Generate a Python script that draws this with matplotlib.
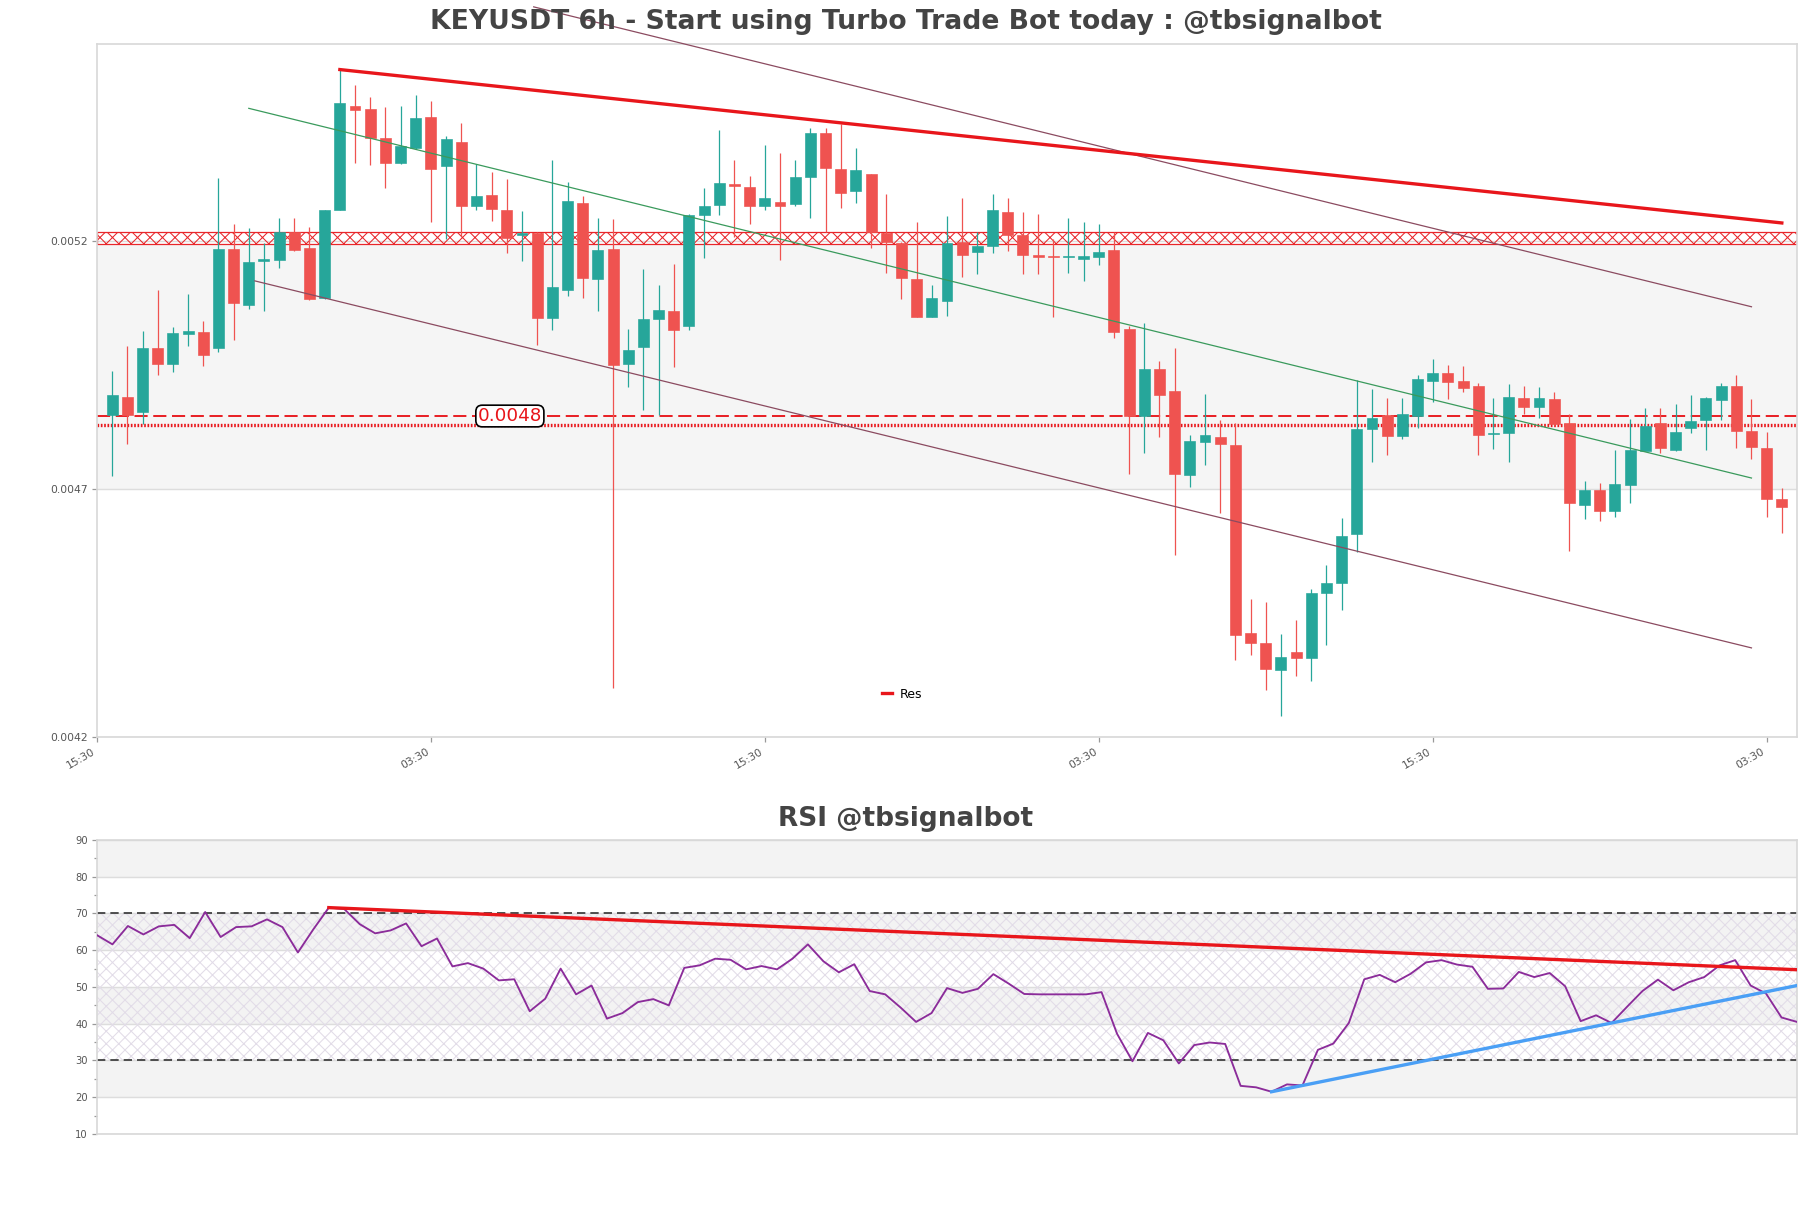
import numpy as np
import matplotlib
matplotlib.use("Agg")
import matplotlib.pyplot as plt

plt.rcParams['font.family'] = ['DejaVu Sans']
plt.rcParams['hatch.linewidth'] = 0.5

# ---------------- data (prices in 1e-3 units) ----------------
open_m = [4.8493, 4.8852, 4.8538, 4.9840, 4.9508, 5.0127, 5.0154, 4.9840, 5.1834, 5.0693,
          5.1592, 5.1601, 5.2176, 5.1852, 5.0846, 5.2625, 5.4718, 5.4646, 5.4062, 5.3568,
          5.3864, 5.4493, 5.3496, 5.3990, 5.2706, 5.2921, 5.2625, 5.2104, 5.2158, 5.0433,
          5.0999, 5.2759, 5.1232, 5.1834, 4.9508, 4.9849, 5.0424, 5.0586, 5.0289, 5.2517,
          5.2724, 5.3137, 5.3083, 5.2706, 5.2786, 5.2741, 5.3271, 5.4170, 5.3442, 5.2993,
          5.3343, 5.2158, 5.1951, 5.1232, 5.0469, 5.0792, 5.1969, 5.1762, 5.1888, 5.2580,
          5.2113, 5.1708, 5.1699, 5.1663, 5.1627, 5.1663, 5.1816, 5.0226, 4.8466, 4.9418,
          4.8960, 4.7280, 4.7945, 4.8053, 4.7891, 4.4091, 4.3885, 4.3346, 4.3714, 4.3597,
          4.4900, 4.5097, 4.6085, 4.8196, 4.8493, 4.8062, 4.8466, 4.9166, 4.9337, 4.9166,
          4.9076, 4.8097, 4.8133, 4.8834, 4.8645, 4.8807, 4.8331, 4.6669, 4.6966, 4.6561,
          4.7073, 4.7756, 4.8331, 4.7774, 4.8223, 4.8385, 4.8780, 4.9076, 4.8160, 4.7828,
          4.6804]
close_m = [4.8897, 4.8493, 4.9840, 4.9508, 5.0136, 5.0172, 4.9705, 5.1834, 5.0738, 5.1574,
           5.1619, 5.2176, 5.1816, 5.0828, 5.2625, 5.4772, 5.4637, 5.4062, 5.3568, 5.3909,
           5.4466, 5.3451, 5.4044, 5.2697, 5.2903, 5.2643, 5.2059, 5.2158, 5.0433, 5.1071,
           5.2795, 5.1250, 5.1816, 4.9499, 4.9804, 5.0424, 5.0604, 5.0190, 5.2517, 5.2706,
           5.3164, 5.3101, 5.2688, 5.2858, 5.2706, 5.3280, 5.4170, 5.3469, 5.2966, 5.3415,
           5.2176, 5.1978, 5.1241, 5.0469, 5.0846, 5.1951, 5.1717, 5.1897, 5.2616, 5.2113,
           5.1717, 5.1672, 5.1663, 5.1681, 5.1681, 5.1771, 5.0154, 4.8466, 4.9418, 4.8897,
           4.7307, 4.7954, 4.8088, 4.7900, 4.4046, 4.3885, 4.3373, 4.3615, 4.3597, 4.4900,
           4.5106, 4.6040, 4.8214, 4.8421, 4.8062, 4.8510, 4.9211, 4.9337, 4.9148, 4.9031,
           4.8079, 4.8133, 4.8852, 4.8654, 4.8825, 4.8313, 4.6714, 4.6966, 4.6561, 4.7100,
           4.7774, 4.8268, 4.7819, 4.8151, 4.8358, 4.8834, 4.9076, 4.8160, 4.7846, 4.6804,
           4.6642]
high_m = [4.9373, 4.9876, 5.0172, 5.1008, 5.0262, 5.0918, 5.0379, 5.3253, 5.2328, 5.2247,
          5.1951, 5.2445, 5.2445, 5.2265, 5.2625, 5.5445, 5.5140, 5.4888, 5.4691, 5.4709,
          5.4924, 5.4807, 5.4107, 5.4367, 5.3541, 5.3388, 5.3235, 5.2598, 5.2176, 5.3631,
          5.3182, 5.2894, 5.2445, 5.2427, 5.0226, 5.1430, 5.1098, 5.1529, 5.2535, 5.3056,
          5.4224, 5.3631, 5.3298, 5.3927, 5.3765, 5.3631, 5.4277, 5.4277, 5.4349, 5.3855,
          5.3343, 5.2939, 5.1978, 5.2373, 5.1098, 5.2499, 5.2849, 5.2176, 5.2948, 5.2849,
          5.2580, 5.2535, 5.2023, 5.2445, 5.2373, 5.2328, 5.2176, 5.0289, 5.0334, 4.9571,
          4.9840, 4.8088, 4.8915, 4.8376, 4.8331, 4.4783, 4.4720, 4.4073, 4.4361, 4.4989,
          4.5466, 4.6409, 4.9184, 4.9013, 4.8825, 4.8825, 4.9301, 4.9615, 4.9499, 4.9481,
          4.9121, 4.8834, 4.9103, 4.9076, 4.9049, 4.8941, 4.8510, 4.7163, 4.7118, 4.7774,
          4.8403, 4.8627, 4.8627, 4.8717, 4.8897, 4.8852, 4.9121, 4.9283, 4.8807, 4.8151,
          4.7011]
low_m = [4.7253, 4.7900, 4.8313, 4.9283, 4.9346, 4.9885, 4.9481, 4.9750, 5.0002, 5.0631,
         5.0577, 5.1457, 5.1798, 5.0810, 5.0828, 5.2625, 5.3568, 5.3523, 5.3056, 5.3550,
         5.3837, 5.2382, 5.2023, 5.2086, 5.2625, 5.2400, 5.1753, 5.1583, 4.9903, 5.0190,
         5.0891, 5.0846, 5.0586, 4.2986, 4.9059, 4.8582, 4.8493, 4.9463, 5.0199, 5.1654,
         5.2508, 5.2068, 5.2337, 5.2625, 5.1601, 5.2697, 5.2445, 5.2176, 5.2661, 5.2759,
         5.1852, 5.1340, 5.0828, 5.0469, 5.0451, 5.0487, 5.1259, 5.1322, 5.1744, 5.1798,
         5.1322, 5.1322, 5.0451, 5.1349, 5.1187, 5.1502, 5.0038, 4.7307, 4.7729, 4.8044,
         4.5663, 4.7029, 4.7487, 4.6516, 4.3552, 4.3642, 4.2941, 4.2429, 4.3220, 4.3130,
         4.3849, 4.4558, 4.5735, 4.7532, 4.7684, 4.7999, 4.8223, 4.8744, 4.8807, 4.8941,
         4.7684, 4.7801, 4.7532, 4.8510, 4.8421, 4.8295, 4.5753, 4.6382, 4.6355, 4.6427,
         4.6714, 4.7756, 4.7729, 4.7756, 4.8133, 4.7774, 4.8385, 4.7819, 4.7594, 4.6427,
         4.6112]

rsi_values = [64.1, 61.6, 66.6, 64.3, 66.5, 66.9, 63.3, 70.4, 63.6, 66.3,
              66.5, 68.4, 66.3, 59.4, 65.7, 71.6, 71.2, 67.1, 64.6, 65.4,
              67.3, 61.1, 63.2, 55.6, 56.5, 55.0, 51.8, 52.1, 43.4, 46.8,
              55.0, 48.0, 50.4, 41.4, 42.9, 45.9, 46.7, 45.0, 55.2, 55.9,
              57.7, 57.4, 54.8, 55.7, 54.8, 57.7, 61.6, 57.0, 54.0, 56.2,
              48.9, 48.0, 44.4, 40.5, 42.9, 49.7, 48.4, 49.5, 53.5, 50.9,
              48.1, 48.0, 48.0, 48.0, 48.0, 48.6, 37.3, 29.8, 37.5, 35.5,
              29.2, 34.2, 34.9, 34.5, 23.1, 22.7, 21.5, 23.5, 23.2, 32.9,
              34.6, 40.2, 52.1, 53.3, 51.3, 53.6, 56.7, 57.3, 56.1, 55.5,
              49.5, 49.6, 54.1, 52.7, 53.8, 50.2, 40.7, 42.3, 40.2, 44.6,
              48.9, 52.0, 49.1, 51.3, 52.7, 55.9, 57.3, 50.4, 48.2, 41.7,
              40.5]

x_tick_labels = ['15:30', '03:30', '15:30', '03:30', '15:30', '03:30']
x_tick_index = [0, 22, 44, 66, 88, 110]
y_ticks = [0.0042, 0.0047, 0.0052]

# trend lines (candle index, price in 1e-3)
res_line_x = [16, 111]
res_line_y = [5.5445, 5.2355]
chan_mid_x = [10, 109]
chan_mid_y = [5.4664, 4.7217]
chan_up_x = [28.77, 109]
chan_up_y = [5.6708, 5.0667]
chan_lo_x = [10.4, 109]
chan_lo_y = [5.1188, 4.3795]

level_dash = 4.8466
level_dot = 4.8277
zone_hatch = (5.1933, 5.2176)
zone_gray = (4.7000, 5.1933)
level_label = '0.0048'
level_label_x = 27.2

rsi_res_x = [15, 110]
rsi_res_y = [71.6, 54.7]
rsi_sup_x = [76, 110]
rsi_sup_y = [21.5, 50.4]

# ---------------- prepare ----------------
o = np.array(open_m) * 1e-3
c = np.array(close_m) * 1e-3
h = np.array(high_m) * 1e-3
l = np.array(low_m) * 1e-3
n = len(o)
xs = np.arange(1, n + 1)

GREEN = '#26a69a'
RED = '#ef5350'

fig = plt.figure(figsize=(1811 / 150, 1208 / 150), dpi=150)
fig.patch.set_facecolor('white')

ax = fig.add_axes([0.05356, 0.38990, 0.93871, 0.57409])
ax2 = fig.add_axes([0.05356, 0.06126, 0.93871, 0.24338])

# ---------------- main chart ----------------
ax.axhspan(zone_gray[0] * 1e-3, zone_gray[1] * 1e-3, color='#f5f5f5', lw=0, zorder=0)
ax.axhspan(zone_hatch[0] * 1e-3, zone_hatch[1] * 1e-3, facecolor='none',
           edgecolor='#e8262a', hatch='xxxx', lw=0.6, zorder=1)

up = c >= o
colors = np.where(up, GREEN, RED)
ax.vlines(xs, l, h, colors=colors, lw=0.6, zorder=3)
body_bottom = np.minimum(o, c)
body_h = np.maximum(np.abs(c - o), 0.6e-6)
ax.bar(xs, body_h, bottom=body_bottom, width=0.72, color=colors,
       edgecolor=colors, linewidth=0.3, zorder=4)

ax.axhline(level_dash * 1e-3, color='#e8161b', lw=0.9, ls=(0, (7, 3)), zorder=2)
ax.axhline(level_dot * 1e-3, color='#e8161b', lw=1.6, ls=(0, (0.5, 0.5)), zorder=2)
ax.text(level_label_x, level_dash * 1e-3, level_label, color='#e8161b', fontsize=8.8,
        ha='center', va='center', zorder=6,
        bbox=dict(boxstyle='round,pad=0.1,rounding_size=0.35', fc='white', ec='black', lw=0.8))

ax.plot(chan_up_x, np.array(chan_up_y) * 1e-3, color='#8b4b60', lw=0.6, zorder=5, clip_on=False)
ax.plot(chan_mid_x, np.array(chan_mid_y) * 1e-3, color='#3a9a5c', lw=0.6, zorder=5)
ax.plot(chan_lo_x, np.array(chan_lo_y) * 1e-3, color='#8b4b60', lw=0.6, zorder=5)
ax.plot(res_line_x, np.array(res_line_y) * 1e-3, color='#e8161b', lw=1.6, zorder=5, label='Res')

ax.set_xlim(0, n + 1)
ax.set_ylim(0.0042, 0.005597)
ax.set_yticks(y_ticks)
ax.set_yticklabels([f'{v:.4f}' for v in y_ticks])
ax.set_xticks(x_tick_index)
ax.set_xticklabels(x_tick_labels, rotation=30, ha='right')
ax.tick_params(axis='both', labelsize=5.2, colors='#999999', labelcolor='#555555',
               length=2.5, width=0.6, pad=2)
ax.grid(axis='y', color='#dddddd', lw=0.7, zorder=0)
ax.set_axisbelow(True)
for sp in ax.spines.values():
    sp.set_color('#d8d8d8')
    sp.set_linewidth(0.8)

leg = ax.legend(loc='center left', bbox_to_anchor=(0.462, 0.062), frameon=False,
                fontsize=6, handlelength=0.8, handletextpad=0.6, borderpad=0, borderaxespad=0)

fig.text(0.5, 0.9818, 'KEYUSDT 6h - Start using Turbo Trade Bot today : @tbsignalbot',
         ha='center', va='center', fontsize=12.8, fontweight='bold', color='#444444')

# ---------------- RSI ----------------
rx = np.arange(len(rsi_values))
for lo_, hi_ in [(80, 90), (60, 70), (40, 50), (20, 30)]:
    ax2.axhspan(lo_, hi_, color='#f3f3f3', lw=0, zorder=0)
ax2.axhspan(30, 70, facecolor='none', edgecolor='#e2dce8', hatch='xxxx', lw=0, zorder=1)
ax2.axhline(70, color='#333333', lw=0.8, ls=(0, (5, 3)), zorder=2)
ax2.axhline(30, color='#333333', lw=0.8, ls=(0, (5, 3)), zorder=2)
ax2.plot(rx, rsi_values, color='#8b2c9a', lw=0.9, zorder=4)
ax2.plot(rsi_res_x, rsi_res_y, color='#e8161b', lw=1.6, zorder=5)
ax2.plot(rsi_sup_x, rsi_sup_y, color='#4a9ff5', lw=1.6, zorder=5)

ax2.set_xlim(0, len(rsi_values) - 1)
ax2.set_ylim(10, 90)
ax2.set_yticks(np.arange(10, 91, 10))
ax2.set_yticks(np.arange(15, 90, 10), minor=True)
ax2.set_xticks([])
ax2.tick_params(axis='y', which='both', labelsize=4.8, colors='#999999', labelcolor='#555555',
                length=2.5, width=0.6, pad=2)
ax2.tick_params(axis='y', which='minor', length=1.5)
ax2.grid(axis='y', which='major', color='#dddddd', lw=0.7, zorder=0)
ax2.set_axisbelow(True)
for sp in ax2.spines.values():
    sp.set_color('#d8d8d8')
    sp.set_linewidth(0.8)

fig.text(0.5, 0.322, 'RSI @tbsignalbot', ha='center', va='center', fontsize=12.7,
         fontweight='bold', color='#444444')

fig.savefig('out.png', dpi=150, facecolor='white')
